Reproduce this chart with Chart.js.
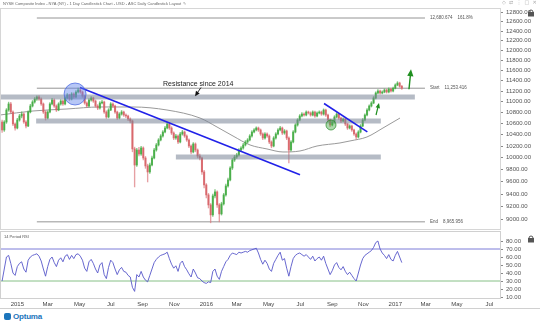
<!DOCTYPE html>
<html>
<head>
<meta charset="utf-8">
<script src="https://cdn.jsdelivr.net/npm/chart.js@4/dist/chart.umd.min.js"></script>
<style>
  html, body { margin: 0; padding: 0; background: #fff; width: 540px; height: 322px; overflow: hidden; position: relative; }
  canvas { position: absolute; left: 0; }
  #main { top: 0; }
  #rsi { top: 230px; }
  #brand { position: absolute; left: 4px; top: 312px; height: 9px; font-family: 'Liberation Sans', Arial, sans-serif; }
  #brand .mark { position: absolute; left: 0; top: 1px; width: 7px; height: 7px; border-radius: 2px; background: #1b75bc; }
  #brand .name { position: absolute; left: 9px; top: 0; font-size: 8px; font-weight: bold; color: #1b75bc; letter-spacing: -0.2px; }
</style>
</head>
<body>
<canvas id="main" width="540" height="230"></canvas>
<canvas id="rsi" width="540" height="80"></canvas>
<div id="brand"><span class="mark"></span><span class="name">Optuma</span></div>
<script>
// ---- NYSE Composite (NYA), bars of three trading days ----
// bar position = firstDay + i * barStep, counted in weekdays from 1 Jan 2015
const firstDay = -21;
const barStep = 3;

const open = [10625,10482,10625,10844,10956,10807,10589,10517,10661,10734,
10770,10625,10553,10807,10918,10993,11049,11087,11049,10956,
10807,10697,10807,10956,11030,10918,10844,10956,11011,10956,
11068,11124,11049,11143,11087,11181,11219,11181,11105,10974,
10918,11030,11068,11011,10918,10881,10974,10993,10807,10716,
10844,10956,10918,10807,10697,10770,10807,10752,10734,10679,
10643,10150,9876,10131,10062,10166,9994,9860,9760,9876,
9994,10131,10218,10305,10375,10446,10517,10589,10517,10428,
10340,10375,10270,10411,10446,10375,10305,10200,10097,10235,
10131,10028,9994,9760,9547,9386,9228,9073,9370,9434,
9228,9088,9244,9386,9530,9628,9826,9960,10011,10045,
10131,10166,10218,10270,10305,10375,10446,10482,10517,10482,
10411,10340,10411,10375,10270,10200,10340,10411,10482,10517,
10428,10464,10340,10131,10270,10446,10571,10661,10734,10770,
10752,10807,10789,10752,10807,10734,10789,10807,10770,10844,
10752,10661,10571,10625,10716,10770,10697,10643,10679,10589,
10517,10553,10482,10411,10358,10446,10553,10661,10752,10844,
10918,10974,11068,11162,11200,11162,11181,11219,11181,11236,
11200,11253,11315,11353,11291];

const high = [10660,10650,10870,10990,10985,10830,10610,10690,10765,10810,
10790,10650,10830,10950,11020,11075,11110,11115,11070,10975,
10830,10830,10980,11060,11050,10940,10980,11040,11035,11090,
11150,11140,11170,11165,11210,11254,11240,11200,11120,10995,
11055,11095,11085,11030,10945,11000,11025,11010,10830,10870,
10980,10975,10935,10825,10795,10835,10825,10775,10750,10700,
10660,10180,10160,10175,10195,10185,10020,9890,9910,10025,
10160,10245,10330,10400,10470,10545,10620,10610,10540,10450,
10405,10395,10440,10475,10465,10395,10325,10220,10260,10255,
10150,10060,10010,9785,9570,9410,9250,9400,9470,9450,
9250,9270,9410,9560,9660,9850,9985,10040,10075,10155,
10190,10245,10295,10330,10400,10470,10505,10540,10535,10500,
10430,10435,10430,10395,10290,10365,10435,10505,10545,10535,
10490,10480,10360,10295,10470,10595,10685,10760,10795,10790,
10830,10825,10810,10830,10825,10810,10830,10825,10865,10860,
10770,10680,10650,10740,10795,10785,10715,10700,10695,10605,
10575,10570,10500,10430,10470,10580,10685,10775,10870,10940,
11000,11095,11185,11225,11220,11205,11240,11235,11260,11255,
11275,11340,11380,11370,11310];

const low = [10440,10455,10600,10820,10780,10560,10480,10500,10640,10700,
10600,10520,10540,10790,10900,10970,11020,11020,10930,10780,
10660,10680,10790,10940,10890,10815,10830,10935,10930,10940,
11050,11020,11030,11060,11070,11160,11155,11080,10950,10890,
10900,11010,10985,10895,10850,10860,10955,10780,10690,10700,
10830,10890,10780,10670,10680,10750,10725,10705,10650,10610,
10100,9514,9850,10030,10040,9960,9820,9595,9735,9860,
9980,10110,10200,10290,10355,10430,10500,10490,10400,10310,
10315,10240,10255,10390,10350,10280,10170,10065,10080,10100,
9995,9960,9720,9500,9340,9180,8951,9050,9340,9190,
8966,9070,9225,9365,9510,9610,9800,9935,9985,10025,
10110,10145,10200,10250,10290,10355,10430,10465,10455,10385,
10310,10320,10350,10240,10170,10185,10320,10395,10465,10400,
10405,10310,9909,10110,10255,10430,10550,10645,10715,10730,
10735,10770,10730,10735,10710,10715,10770,10745,10750,10725,
10630,10540,10555,10605,10700,10670,10615,10625,10560,10490,
10500,10455,10385,10320,10340,10430,10540,10645,10735,10825,
10900,10960,11050,11145,11140,11145,11165,11160,11165,11180,
11185,11240,11300,11270,11230];

const close = [10482,10625,10844,10956,10807,10589,10517,10661,10734,10770,
10625,10553,10807,10918,10993,11049,11087,11049,10956,10807,
10697,10807,10956,11030,10918,10844,10956,11011,10956,11068,
11124,11049,11143,11087,11181,11219,11181,11105,10974,10918,
11030,11068,11011,10918,10881,10974,10993,10807,10716,10844,
10956,10918,10807,10697,10770,10807,10752,10734,10679,10643,
10150,9876,10131,10062,10166,9994,9860,9760,9876,9994,
10131,10218,10305,10375,10446,10517,10589,10517,10428,10340,
10375,10270,10411,10446,10375,10305,10200,10097,10235,10131,
10028,9994,9760,9547,9386,9228,9073,9370,9434,9228,
9088,9244,9386,9530,9628,9826,9960,10011,10045,10131,
10166,10218,10270,10305,10375,10446,10482,10517,10482,10411,
10340,10411,10375,10270,10200,10340,10411,10482,10517,10428,
10464,10340,10131,10270,10446,10571,10661,10734,10770,10752,
10807,10789,10752,10807,10734,10789,10807,10770,10844,10752,
10661,10571,10625,10716,10770,10697,10643,10679,10589,10517,
10553,10482,10411,10358,10446,10553,10661,10752,10844,10918,
10974,11068,11162,11200,11162,11181,11219,11181,11236,11200,
11253,11315,11353,11291,11253];

// 14 period RSI at the same bars
const rsi = [30,45,60,62,52,40,37,48,52,54,
45,41,56,60,62,63,64,61,55,45,
36,48,57,60,53,48,56,59,54,61,
63,57,62,58,63,64,61,56,46,42,
54,57,52,45,40,50,53,38,33,47,
56,53,45,38,44,47,42,41,37,35,
22,17,38,35,42,35,31,29,37,45,
53,57,60,62,63,64,66,58,51,46,
49,42,52,55,48,44,39,35,45,40,
34,33,30,28,27,29,28,42,45,36,
32,42,48,54,57,62,65,64,63,66,
65,66,67,66,68,69,70,71,65,57,
51,56,52,45,42,52,57,62,66,56,
58,46,36,48,58,62,64,65,63,61,
63,60,57,61,55,58,60,56,61,52,
45,38,43,50,53,47,44,48,42,38,
41,37,33,30,40,50,58,62,64,66,
68,72,78,80,70,65,62,58,63,57,
55,62,67,60,53];

// 200 day moving average, sampled
const maDay   = [-24, 21.7, 68.6, 114.2, 159.8, 206.7, 252.3, 275.8, 297.9, 321.4, 344.8, 366.9, 390.4, 413.9, 445.6, 459.4, 482.9, 505.0, 528.5];
const maValue = [10752,10826,10863,10900,10900,10844,10697,10535,10375,10218,10149,10097,10114,10200,10253,10288,10358,10517,10697];

// Fibonacci projection levels
const fibLevel = [12680.674, 11253.416, 8965.956];
const fibName  = ['12,680.674', 'Start', 'End'];
const fibNote  = ['161.8%', '11,253.416', '8,965.956'];
const fibFromDay = 27, fibToDay = 563;

// support / resistance zones
const zoneLevel = [11087, 10643, 10011];
const zoneFrom  = [-24, 26, 219];
const zoneTo    = [549, 502, 502];

// trend lines
const trendFromDay = [86.6, 423.6], trendFromPrice = [11267, 10964];
const trendToDay   = [390.4, 483.4], trendToPrice  = [9714, 10447];

// highlighted spots and arrows
const spotDay = [79.8, 433.2], spotPrice = [11143, 10571];
const upArrowFromDay = [540.9, 495.4], upArrowFromPrice = [11234, 10752];
const upArrowToDay   = [543.7, 499.5], upArrowToPrice   = [11623, 10974];
const noteText = 'Resistance since 2014';
const noteDay = 201.2, notePrice = 11330;
const noteArrowFrom = [253.7, 11267], noteArrowTo = [245.4, 11101];

// axes
const priceTicks = [8800,9000,9200,9400,9600,9800,10000,10200,10400,10600,10800,11000,11200,11400,11600,11800,12000,12200,12400,12600,12800];
const rsiTicks = [10,20,30,40,50,60,70,80];
const rsiLevels = [70, 30];
const tickDates = ['2015-01-01','2015-03-01','2015-05-01','2015-07-01','2015-09-01','2015-11-01','2016-01-01','2016-03-01','2016-05-01','2016-07-01','2016-09-01','2016-11-01','2017-01-01','2017-03-01','2017-05-01','2017-07-01'];
const tickLabels = ['2015','Mar','May','Jul','Sep','Nov','2016','Mar','May','Jul','Sep','Nov','2017','Mar','May','Jul'];
const titleText = 'NYSE Composite Index - NYA (NY) - 1 Day Candlestick Chart - USD - ASC Daily Candlestick Layout';

// visible window (weekdays) and price range
const xMin = -23.9, xMax = 666.6;
const priceMin = 8857.3, priceMax = 12898.2;

// ---- helpers ----
function weekdayIndex(iso) {
  const [yy, mm, dd] = iso.split('-').map(Number);
  const end = Date.UTC(yy, mm - 1, dd);
  let n = 0;
  for (let t = Date.UTC(2015, 0, 1); t < end; t += 864e5) {
    const wd = new Date(t).getUTCDay();
    if (wd !== 0 && wd !== 6) n++;
  }
  return n;
}
const tickPos = tickDates.map(weekdayIndex);
const barDay = close.map((_, i) => firstDay + i * barStep);

const UP = 'rgba(58,168,58,0.82)', DOWN = 'rgba(214,92,96,0.82)';
const UP_WICK = 'rgba(80,175,80,0.7)', DOWN_WICK = 'rgba(220,120,124,0.7)';
const isUp = i => close[i] >= open[i];
const seg = (x0, y0, x1, y1) => [{x: x0, y: y0}, {x: x1, y: y1}];
const FONT = "'Liberation Sans', Arial, sans-serif";
Chart.defaults.font.family = FONT;

// axes keep their fixed width and do not inset the plot for edge labels
function fixedAxis(w) {
  return s => {
    if (w) s.width = w; else s.height = 12;
    s.paddingTop = 0; s.paddingBottom = 0; s.paddingLeft = 0; s.paddingRight = 0;
  };
}

function arrow(ctx, x0, y0, x1, y1, color, width, head) {
  const a = Math.atan2(y1 - y0, x1 - x0), c = Math.cos(a), s = Math.sin(a);
  ctx.strokeStyle = color; ctx.fillStyle = color; ctx.lineWidth = width;
  ctx.beginPath(); ctx.moveTo(x0, y0); ctx.lineTo(x1 - c * head * 0.8, y1 - s * head * 0.8); ctx.stroke();
  ctx.beginPath();
  ctx.moveTo(x1, y1);
  ctx.lineTo(x1 - c * head + s * head * 0.45, y1 - s * head - c * head * 0.45);
  ctx.lineTo(x1 - c * head - s * head * 0.45, y1 - s * head + c * head * 0.45);
  ctx.closePath(); ctx.fill();
}

// small padlock in the corner of an axis strip
function padlock(ctx, x, y) {
  ctx.save();
  ctx.strokeStyle = '#555'; ctx.fillStyle = '#555'; ctx.lineWidth = 1;
  ctx.beginPath(); ctx.arc(x + 3, y + 3, 2, Math.PI, 0); ctx.stroke();
  ctx.fillRect(x, y + 3, 6, 4.5);
  ctx.restore();
}

const lineBase = {type: 'line', pointRadius: 0, fill: false, tension: 0};

// ---- price panel ----
const datasets = [];
trendFromDay.forEach((d, i) => datasets.push({...lineBase, order: 0, borderColor: '#2121e8', borderWidth: 1.6,
  data: seg(d, trendFromPrice[i], trendToDay[i], trendToPrice[i])}));
zoneLevel.forEach((v, i) => datasets.push({...lineBase, order: 0.5, borderColor: 'rgba(120,132,150,0.55)', borderWidth: 5, borderCapStyle: 'butt',
  data: seg(zoneFrom[i], v, zoneTo[i], v)}));
datasets.push({type: 'bar', order: 1, grouped: false, barThickness: 1.4, borderWidth: 0, borderSkipped: false,
  backgroundColor: ctx => isUp(ctx.dataIndex) ? UP : DOWN,
  data: barDay.map((d, i) => ({x: d, y: [open[i], close[i]]}))});
datasets.push({type: 'bar', order: 2, grouped: false, barThickness: 0.7, borderWidth: 0, borderSkipped: false,
  backgroundColor: ctx => isUp(ctx.dataIndex) ? UP_WICK : DOWN_WICK,
  data: barDay.map((d, i) => ({x: d, y: [low[i], high[i]]}))});
datasets.push({...lineBase, order: 3, borderColor: '#9a9a9a', borderWidth: 1, cubicInterpolationMode: 'monotone',
  data: maDay.map((d, i) => ({x: d, y: maValue[i]}))});
fibLevel.forEach(v => datasets.push({...lineBase, order: 4, borderColor: '#7a7a7a', borderWidth: 0.8,
  data: seg(fibFromDay, v, fibToDay, v)}));

const priceDecor = {
  id: 'priceDecor',
  beforeDraw(chart) {
    const {ctx} = chart;
    ctx.save();
    ctx.fillStyle = '#fff'; ctx.fillRect(0, 0, chart.width, chart.height);
    ctx.fillStyle = '#666'; ctx.font = '4px ' + FONT; ctx.textBaseline = 'middle';
    ctx.fillText(titleText + '  \u270E', 3, 4);
    ctx.fillStyle = '#aaa'; ctx.font = '5px DejaVu Sans';
    ctx.fillText('\u25C7  \u21C4  \u22EE  \u25A1  \u2715', 502, 3);
    ctx.restore();
  },
  afterDatasetsDraw(chart) {
    const {ctx, chartArea: a, scales: {x, y}} = chart;
    const px = d => x.getPixelForValue(d), py = v => y.getPixelForValue(v);
    ctx.save();
    // highlighted spots
    const spotStyle = [['rgba(95,130,235,0.45)', 'rgba(70,100,225,0.9)', 11], ['rgba(70,170,70,0.45)', 'rgba(40,140,40,0.9)', 5]];
    spotDay.forEach((d, i) => {
      ctx.beginPath(); ctx.arc(px(d), py(spotPrice[i]), spotStyle[i][2], 0, Math.PI * 2);
      ctx.fillStyle = spotStyle[i][0]; ctx.fill();
      ctx.lineWidth = 0.8; ctx.strokeStyle = spotStyle[i][1]; ctx.stroke();
    });
    // green arrows
    upArrowFromDay.forEach((d, i) => arrow(ctx, px(d), py(upArrowFromPrice[i]), px(upArrowToDay[i]), py(upArrowToPrice[i]),
      '#1f8f1f', i === 0 ? 1.4 : 1.2, i === 0 ? 7 : 5));
    // note and its pointer
    arrow(ctx, px(noteArrowFrom[0]), py(noteArrowFrom[1]), px(noteArrowTo[0]), py(noteArrowTo[1]), '#111', 0.9, 5);
    ctx.fillStyle = '#222'; ctx.font = '7px ' + FONT; ctx.textBaseline = 'middle';
    ctx.fillText(noteText, px(noteDay), py(notePrice));
    // Fibonacci labels
    ctx.font = '4.5px ' + FONT; ctx.fillStyle = '#555';
    fibLevel.forEach((v, i) => {
      const x0 = px(fibToDay) + 5, yy = py(v);
      ctx.fillText(fibName[i], x0, yy);
      ctx.fillText(fibNote[i], x0 + ctx.measureText(fibName[i]).width + 5, yy);
    });
    // panel frame
    ctx.strokeStyle = '#d6d6d6'; ctx.lineWidth = 1;
    ctx.strokeRect(a.left + 0.5, a.top + 0.5, a.right - a.left, a.bottom - a.top);
    ctx.restore();
  },
  afterDraw(chart) {
    padlock(chart.ctx, 528, 9);
  }
};

new Chart(document.getElementById('main'), {
  type: 'bar',
  data: {datasets},
  options: {
    responsive: false, animation: false, devicePixelRatio: 1,
    layout: {padding: {top: 8, bottom: 1, left: 0, right: 0}},
    plugins: {legend: {display: false}, tooltip: {enabled: false}},
    scales: {
      x: {type: 'linear', min: xMin, max: xMax, offset: false, display: false},
      y: {
        type: 'logarithmic', position: 'right', min: priceMin, max: priceMax,
        afterFit: fixedAxis(40),
        afterBuildTicks(s) { s.ticks = priceTicks.map(v => ({value: v})); },
        ticks: {callback: v => Number(v).toFixed(2), font: {size: 6}, color: '#555', autoSkip: false, padding: 3},
        grid: {drawOnChartArea: false, tickLength: 3, color: '#888'},
        border: {color: '#cfcfcf'}
      }
    }
  },
  plugins: [priceDecor]
});

// ---- RSI panel ----
const rsiSets = [{...lineBase, borderColor: '#5757c9', borderWidth: 0.9, order: 0,
  data: barDay.map((d, i) => ({x: d, y: rsi[i]}))}];
const levelColor = ['#7c7cd8', '#86c086'];
rsiLevels.forEach((v, i) => rsiSets.push({...lineBase, borderColor: levelColor[i], borderWidth: 1, order: 1,
  data: seg(xMin, v, xMax, v)}));

const rsiDecor = {
  id: 'rsiDecor',
  beforeDraw(chart) {
    const {ctx} = chart;
    ctx.save(); ctx.fillStyle = '#fff'; ctx.fillRect(0, 0, chart.width, chart.height); ctx.restore();
  },
  afterDraw(chart) {
    const {ctx, chartArea: a} = chart;
    ctx.save();
    ctx.fillStyle = '#555'; ctx.font = '4px ' + FONT; ctx.textBaseline = 'middle';
    ctx.fillText('14 Period RSI', 4, 7);
    ctx.strokeStyle = '#d0d0d0'; ctx.lineWidth = 1;
    ctx.strokeRect(a.left + 0.5, a.top - 0.5, a.right - a.left, a.bottom - a.top + 1);
    ctx.beginPath(); ctx.moveTo(0, chart.height - 1.5); ctx.lineTo(chart.width, chart.height - 1.5); ctx.stroke();
    ctx.restore();
    padlock(ctx, 528, 5);
  }
};

new Chart(document.getElementById('rsi'), {
  type: 'line',
  data: {datasets: rsiSets},
  options: {
    responsive: false, animation: false, devicePixelRatio: 1,
    layout: {padding: {top: 2, bottom: 0, left: 0, right: 0}},
    plugins: {legend: {display: false}, tooltip: {enabled: false}},
    scales: {
      x: {
        type: 'linear', min: xMin, max: xMax, offset: false, position: 'bottom',
        afterFit: fixedAxis(0),
        afterBuildTicks(s) { s.ticks = tickPos.map(v => ({value: v})); },
        ticks: {callback: v => tickLabels[tickPos.indexOf(v)], font: {size: 6}, color: '#444', autoSkip: false, maxRotation: 0, padding: 3},
        grid: {drawOnChartArea: false, drawTicks: false},
        border: {color: '#cfcfcf'}
      },
      y: {
        position: 'right', min: 8.75, max: 91.25,
        afterFit: fixedAxis(40),
        afterBuildTicks(s) { s.ticks = rsiTicks.map(v => ({value: v})); },
        ticks: {callback: v => Number(v).toFixed(2), font: {size: 6}, color: '#555', autoSkip: false, padding: 3},
        grid: {drawOnChartArea: false, tickLength: 3, color: '#888'},
        border: {color: '#cfcfcf'}
      }
    }
  },
  plugins: [rsiDecor]
});
</script>
</body>
</html>
